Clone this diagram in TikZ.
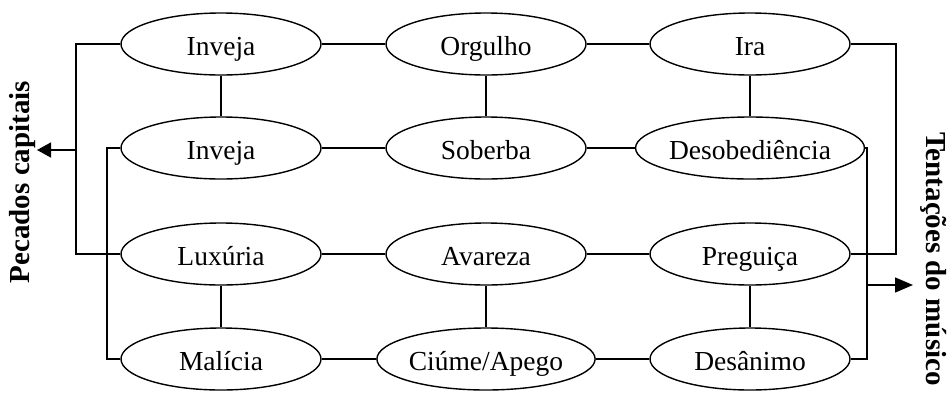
\documentclass[tikz,border=0pt]{standalone}
\usepackage{fontspec}
\setmainfont{Liberation Serif}
\usetikzlibrary{shapes.geometric,arrows.meta}
\begin{document}
\begin{tikzpicture}[x=1pt,y=-1pt,
  sin/.style={draw,ellipse,line width=1.4pt,minimum width=200pt,minimum height=62pt,inner sep=0pt,
    text height=23pt,text depth=1pt,font=\fontsize{27.5}{30}\selectfont},
  conn/.style={line width=1.4pt},
  side/.style={font=\fontsize{29}{32}\selectfont\bfseries}]
\useasboundingbox (0,0) rectangle (949,392);
% row 1
\node[sin] (inv1) at (221,44) {Inveja};
\node[sin] (org) at (486,44) {Orgulho};
\node[sin] (ira) at (750,44) {Ira};
% row 2
\node[sin] (inv2) at (221,148) {Inveja};
\node[sin] (sob) at (486,148) {Soberba};
\node[sin] (des) at (750,148) {Desobediência};
% row 3
\node[sin] (lux) at (221,254) {Luxúria};
\node[sin] (ava) at (486,254) {Avareza};
\node[sin] (pre) at (750,254) {Preguiça};
% row 4
\node[sin] (mal) at (221,359) {Malícia};
\node[sin] (ciu) at (486,359) {Ciúme/Apego};
\node[sin] (dsn) at (750,359) {Desânimo};
% side labels
\node[side,rotate=90] (pec) at (23,182) {Pecados capitais};
\node[side,rotate=-90] (ten) at (934,259) {Tentações do músico};
% bus coordinates
\coordinate (bLo) at (76,0);
\coordinate (bLi) at (107,0);
\coordinate (bRo) at (896,0);
\coordinate (bRi) at (867,0);
% horizontal links
\draw[conn] (inv1) -- (org) (org) -- (ira);
\draw[conn] (inv2) -- (sob) (sob) -- (des);
\draw[conn] (lux) -- (ava) (ava) -- (pre);
\draw[conn] (mal) -- (ciu) (ciu) -- (dsn);
% vertical links
\draw[conn] (inv1) -- (inv2) (org) -- (sob) (ira) -- (des);
\draw[conn] (lux) -- (mal) (ava) -- (ciu) (pre) -- (dsn);
% left buses
\draw[conn] (inv1.west) -- (inv1.west -| bLo) -- (lux.west -| bLo) -- (lux.west);
\draw[conn] (inv2.west) -- (inv2.west -| bLi) -- (mal.west -| bLi) -- (mal.west);
% right buses
\draw[conn] (ira.east) -- (ira.east -| bRo) -- (pre.east -| bRo) -- (pre.east);
\draw[conn] (des.east) -- (des.east -| bRi) -- (dsn.east -| bRi) -- (dsn.east);
% arrows
\coordinate (aLs) at (76,150);
\coordinate (aLe) at (37,150);
\coordinate (aRs) at (867,285);
\coordinate (aRe) at (913,285);
\draw[conn,-{Triangle[length=14pt,width=15pt]}] (aLs) -- (aLe);
\draw[conn,-{Triangle[length=18pt,width=15pt]}] (aRs) -- (aRe);
\end{tikzpicture}
\end{document}
